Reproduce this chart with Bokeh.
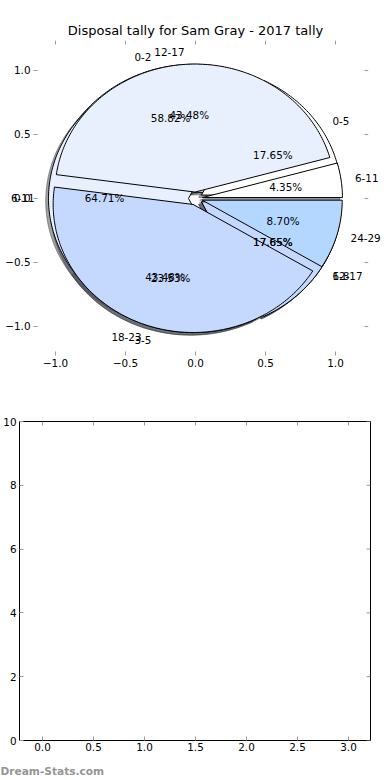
import numpy as np
from bokeh.plotting import figure
from bokeh.models import ColumnDataSource, Range1d, FixedTicker, CustomJSTickFormatter
from bokeh.layouts import column
from bokeh.embed import file_html
from bokeh.resources import INLINE
from bokeh.core.properties import value

# ---------------- data ----------------
title_text = "Disposal tally for Sam Gray - 2017 tally"
ages_a = ["0-2", "3-5", "6-8"]
tally_a = [10, 4, 3]
ages_b = ["0-5", "6-11", "12-17"]
tally_b = [3, 11, 3]
ages_c = ["6-11", "12-17", "18-23", "24-29"]
tally_c = [1, 10, 10, 2]
wedge_colors = ["#ffffff", "#e9f0fd", "#c5d9ff", "#b4d7ff"]
pie_ticks = [-1.0, -0.5, 0.0, 0.5, 1.0]
bottom_xticks = [0.0, 0.5, 1.0, 1.5, 2.0, 2.5, 3.0]
bottom_yticks = [0, 2, 4, 6, 8, 10]
watermark = "Dream-Stats.com"

EXPLODE = 0.05
SHADOW_OFF = -0.02
LABEL_DIST = 1.1
PCT_DIST = 0.6
FONT = "DejaVu Sans"
FS = "10.4px"
TICK_COL = "#9a9a9a"


def darker(hexcol, f=0.3):
    h = hexcol.lstrip("#")
    r, g, b = (int(h[i:i + 2], 16) for i in (0, 2, 4))
    return "#%02x%02x%02x" % (int(r * f), int(g * f), int(b * f))


def pie_parts(labels, counts):
    counts = np.asarray(counts, float)
    fr = counts / counts.sum()
    t2 = np.cumsum(fr) * 2 * np.pi
    t1 = np.concatenate([[0.0], t2[:-1]])
    wx, wy, sx, sy, cols, scols = [], [], [], [], [], []
    lx, ly, la, px, py, ptxt = [], [], [], [], [], []
    for i, (a, b) in enumerate(zip(t1, t2)):
        m = 0.5 * (a + b)
        cx, cy = EXPLODE * np.cos(m), EXPLODE * np.sin(m)
        n = max(int(np.degrees(b - a)), 4)
        th = np.linspace(a, b, n + 1)
        xs = np.concatenate([[cx], cx + np.cos(th), [cx]])
        ys = np.concatenate([[cy], cy + np.sin(th), [cy]])
        wx.append(list(xs)); wy.append(list(ys))
        sx.append(list(xs + SHADOW_OFF)); sy.append(list(ys + SHADOW_OFF))
        c = wedge_colors[i % len(wedge_colors)]
        cols.append(c); scols.append(darker(c))
        xt = cx + LABEL_DIST * np.cos(m)
        yt = cy + LABEL_DIST * np.sin(m)
        lx.append(xt); ly.append(yt)
        la.append("left" if xt > 0 else "right")
        px.append(cx + PCT_DIST * np.cos(m)); py.append(cy + PCT_DIST * np.sin(m))
        ptxt.append("%.2f%%" % (fr[i] * 100))
    wedges = ColumnDataSource(dict(xs=wx, ys=wy, color=cols))
    shadows = ColumnDataSource(dict(xs=sx, ys=sy, color=scols))
    labs = ColumnDataSource(dict(x=lx, y=ly, text=list(labels), align=la))
    pcts = ColumnDataSource(dict(x=px, y=py, text=ptxt))
    return wedges, shadows, labs, pcts


def style_axis(ax, ticks, code, standoff):
    ax.ticker = FixedTicker(ticks=ticks, minor_ticks=[])
    ax.formatter = CustomJSTickFormatter(code=code)
    ax.major_tick_in = 4
    ax.major_tick_out = 0
    ax.minor_tick_in = 0
    ax.minor_tick_out = 0
    ax.major_tick_line_color = TICK_COL
    ax.major_tick_line_width = 1
    ax.axis_line_color = None
    ax.major_label_text_font = FONT
    ax.major_label_text_color = "black"
    ax.major_label_text_font_size = FS
    ax.major_label_standoff = standoff


def edge_ticks(p, xr, yr, xticks, yticks, fw, fh, length=4):
    ly = length * (yr[1] - yr[0]) / fh
    lx = length * (xr[1] - xr[0]) / fw
    p.segment(x0=xticks, y0=[yr[1]] * len(xticks), x1=xticks,
              y1=[yr[1] - ly] * len(xticks), line_color=TICK_COL, line_width=1)
    p.segment(x0=[xr[1]] * len(yticks), y0=yticks, x1=[xr[1] - lx] * len(yticks),
              y1=yticks, line_color=TICK_COL, line_width=1)


MINUS = "return tick.toFixed(1).replace('-', '\u2212')"

# ---------------- top: pie chart ----------------
L1, R1, T1, B1, H1, W = 33, 22, 40, 40, 395, 390
xr1 = ((L1 - 195) / 140.0, (W - R1 - 195) / 140.0)
yr1 = (-1.227, 1.234)
p1 = figure(width=W, height=H1, output_backend="svg", toolbar_location=None,
            x_range=Range1d(*xr1), y_range=Range1d(*yr1),
            min_border_left=L1, min_border_right=R1, min_border_top=T1,
            min_border_bottom=B1)
p1.frame_align = False
p1.outline_line_color = None
p1.grid.visible = False
style_axis(p1.xaxis[0], pie_ticks, MINUS, 3)
style_axis(p1.yaxis[0], pie_ticks, MINUS, 3)
edge_ticks(p1, xr1, yr1, pie_ticks, pie_ticks, W - L1 - R1, H1 - T1 - B1)

pies = [pie_parts(ages_a, tally_a), pie_parts(ages_b, tally_b), pie_parts(ages_c, tally_c)]

for wedges, shadows, labs, pcts in pies:
    p1.patches("xs", "ys", source=shadows, fill_color="color", fill_alpha=0.5,
               line_color="color", line_alpha=0.5, line_width=1)
for wedges, shadows, labs, pcts in pies:
    p1.patches("xs", "ys", source=wedges, fill_color="color", line_color="black",
               line_width=1, line_join="miter")
for wedges, shadows, labs, pcts in pies:
    p1.text(x="x", y="y", text="text", source=labs, text_align="align",
            text_baseline="middle", text_font=value(FONT), text_font_size=value(FS),
            text_color="black", level="overlay")
    p1.text(x="x", y="y", text="text", source=pcts, text_align="center",
            text_baseline="middle", text_font=value(FONT), text_font_size=value(FS),
            text_color="black", level="overlay")

# title (centred on the pie's x = 0)
p1.text(x=[0.0], y=[(198 - 30) / 128.0], text=[title_text], text_align="center",
        text_baseline="middle", text_font=value(FONT), text_font_size=value("13px"),
        text_color="black", level="overlay")

# ---------------- bottom: empty axes ----------------
L2, R2, T2, B2, H2 = 19, 20, 26, 40, 385
xr2 = ((L2 - 42) / 102.0, (W - R2 - 42) / 102.0)
yr2 = (0, 10)
p2 = figure(width=W, height=H2, output_backend="svg", toolbar_location=None,
            x_range=Range1d(*xr2), y_range=Range1d(*yr2),
            min_border_left=L2, min_border_right=R2, min_border_top=T2,
            min_border_bottom=B2)
p2.frame_align = False
p2.outline_line_color = "black"
p2.outline_line_width = 1
p2.grid.visible = False
style_axis(p2.xaxis[0], bottom_xticks, "return tick.toFixed(1)", 2)
style_axis(p2.yaxis[0], bottom_yticks, "return tick.toFixed(0)", 3)
edge_ticks(p2, xr2, yr2, bottom_xticks, bottom_yticks, W - L2 - R2, H2 - T2 - B2)

p2.text(x=[(0 - 42) / 102.0], y=[-(770 - 740) * 10.0 / (H2 - T2 - B2)], text=[watermark],
        text_align="left", text_baseline="middle", text_font=value(FONT),
        text_font_size=value("10.6px"), text_font_style="bold", text_color="#959595",
        level="overlay")

layout = column(p1, p2)
open("out.html", "w").write(file_html(layout, INLINE))
